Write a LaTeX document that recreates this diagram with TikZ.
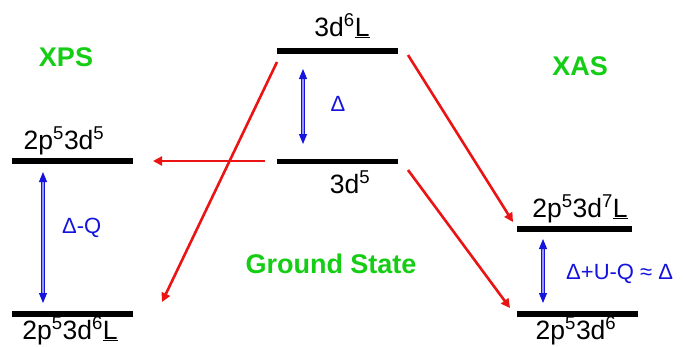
\documentclass[tikz,border=0pt]{standalone}
\usepackage{fontspec}
\setmainfont{Liberation Sans}
\usetikzlibrary{arrows.meta}
\definecolor{lvgreen}{RGB}{20,205,20}
\definecolor{arrred}{RGB}{235,20,20}
\definecolor{arrblue}{RGB}{20,20,220}
\tikzset{
  level/.style={line width=5.5pt, black},
  lvlabel/.style={anchor=base, inner sep=0pt, font=\fontsize{26.5}{30}\selectfont},
  grlabel/.style={inner sep=0pt, text=lvgreen, font=\fontsize{27}{30}\selectfont\bfseries},
  bllabel/.style={inner sep=0pt, text=arrblue, font=\fontsize{22}{25}\selectfont},
  redarr/.style={draw=arrred, line width=2.6pt, -{Triangle[length=9pt,width=9pt]}},
  bluearr/.style={draw=arrblue, line width=1pt, double=arrblue!45, double distance=1.2pt, {Triangle[length=10pt,width=8pt]}-{Triangle[length=10pt,width=8pt]}},
}
\begin{document}
\begin{tikzpicture}[x=1pt,y=-1pt]
\useasboundingbox (0,0) rectangle (684,346);
% levels
\draw[level] (277,51) coordinate (cTl) -- (398,51) coordinate (cTr);
\draw[level] (277,161.5) coordinate (cMl) -- (398,161.5) coordinate (cMr);
\draw[level] (12,161) -- (133,161);
\draw[level] (12,314) -- (133,314);
\draw[level] (517,229) -- (632,229);
\draw[level] (517,314) -- (638,314);
% level labels
\node[lvlabel] (l3d6L) at (342,36) {3d\textsuperscript{6}\underline{L}};
\node[lvlabel] (l3d5) at (350,193) {3d\textsuperscript{5}};
\node[lvlabel] (lx1) at (64,149) {2p\textsuperscript{5}3d\textsuperscript{5}};
\node[lvlabel] (lx2) at (70,339) {2p\textsuperscript{5}3d\textsuperscript{6}\underline{L}};
\node[lvlabel] (la1) at (580,217) {2p\textsuperscript{5}3d\textsuperscript{7}\underline{L}};
\node[lvlabel] (la2) at (576,339) {2p\textsuperscript{5}3d\textsuperscript{6}};
% green titles
\node[grlabel] (xps) at (66,57) {XPS};
\node[grlabel] (xas) at (580,66) {XAS};
\node[grlabel] (gs) at (331,264) {Ground State};
% red arrows
\coordinate (r1s) at (265,161);
\coordinate (r1e) at (153,161);
\coordinate (r2s) at (277,62);
\coordinate (r2e) at (162,302);
\coordinate (r3s) at (408,55);
\coordinate (r3e) at (513,222);
\coordinate (r4s) at (408,170);
\coordinate (r4e) at (510,308);
\draw[redarr] (r1s) -- (r1e);
\draw[redarr] (r2s) -- (r2e);
\draw[redarr] (r3s) -- (r3e);
\draw[redarr] (r4s) -- (r4e);
% blue arrows
\coordinate (b1s) at (303,69);
\coordinate (b1e) at (303,144);
\coordinate (b2s) at (43,172);
\coordinate (b2e) at (43,303);
\coordinate (b3s) at (543,239);
\coordinate (b3e) at (543,303);
\draw[bluearr] (b1s) -- (b1e);
\draw[bluearr] (b2s) -- (b2e);
\draw[bluearr] (b3s) -- (b3e);
\node[bllabel] (d1) at (338,104) {Δ};
\node[bllabel, anchor=west] (d2) at (62,228) {Δ-Q};
\node[bllabel, anchor=west] (d3) at (566,274) {Δ+U-Q ≈ Δ};
\end{tikzpicture}
\end{document}
